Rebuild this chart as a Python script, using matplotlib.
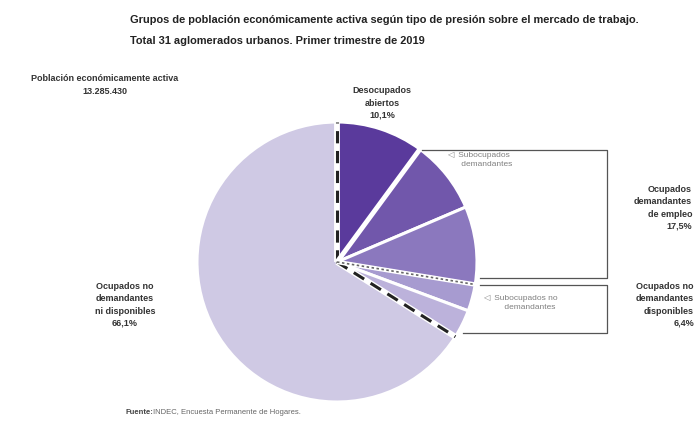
import numpy as np
import matplotlib.pyplot as plt

# datos (porcentajes de la PEA)
grupos = ['Desocupados abiertos', 'Subocupados demandantes', 'Otros ocupados demandantes',
          'Subocupados no demandantes', 'Otros ocupados no demandantes disponibles',
          'Ocupados no demandantes ni disponibles']
valores = [10.1, 8.5, 9.0, 3.1, 3.3, 66.1]
colores = ['#5a3a9c', '#7157ab', '#8b78be', '#a79bd0', '#bcb2db', '#cfc9e4']

plt.rcParams['font.family'] = ['Liberation Sans', 'DejaVu Sans']

W, H = 696, 430
fig = plt.figure(figsize=(W / 100, H / 100), dpi=100)
ax = fig.add_axes([0, 0, 1, 1])

cx, cy, r = 337, H - 262, 140
ax.pie(valores, colors=colores, startangle=90, counterclock=False,
       center=(cx, cy), radius=r, frame=True,
       wedgeprops=dict(edgecolor='white', linewidth=2.2))
ax.set_xlim(0, W)
ax.set_ylim(0, H)
ax.set_aspect('equal')
ax.axis('off')

# bordes entre grupos
acum = np.cumsum([0] + valores)
ang = np.deg2rad(90 - acum / acum[-1] * 360)

def radio(i, color, dashes, lw):
    x = [cx, cx + r * np.cos(ang[i])]
    y = [cy, cy + r * np.sin(ang[i])]
    ax.plot(x, y, color='white', lw=lw + 2, solid_capstyle='butt')
    ax.plot(x, y, color=color, lw=lw, dashes=dashes)

radio(0, '#222222', (4, 2.5), 2.2)
radio(5, '#222222', (4, 2.5), 2.2)
radio(1, '#ffffff', (2, 2), 1.5)
radio(3, '#666666', (1.5, 1.5), 1.2)

def py(v):
    return H - v

# llaves (cajas)
ax.plot([422, 607, 607, 480], [py(150), py(150), py(278), py(278)], color='#555555', lw=0.9)
ax.plot([480, 607, 607, 463], [py(285), py(285), py(333), py(333)], color='#555555', lw=0.9)

# titulos
ax.text(130, py(20), 'Grupos de población económicamente activa según tipo de presión sobre el mercado de trabajo.',
        fontsize=7.9, fontweight='bold', color='#222222', va='center', ha='left')
ax.text(130, py(41), 'Total 31 aglomerados urbanos. Primer trimestre de 2019',
        fontsize=7.9, fontweight='bold', color='#222222', va='center', ha='left')

eti = dict(fontsize=6.5, fontweight='bold', color='#333333', linespacing=1.45)
ax.text(105, py(85), 'Población económicamente activa\n13.285.430', ha='center', va='center', **eti)
ax.text(382, py(103), 'Desocupados\nabiertos\n10,1%', ha='center', va='center', **eti)
ax.text(692, py(208), 'Ocupados\ndemandantes\nde empleo\n17,5%', ha='right', va='center', **eti)
ax.text(694, py(305), 'Ocupados no\ndemandantes\ndisponibles\n6,4%', ha='right', va='center', **eti)
ax.text(125, py(305), 'Ocupados no\ndemandantes\nni disponibles\n66,1%', ha='center', va='center', **eti)

sub = dict(fontsize=6.0, color='#808080', linespacing=1.35)
ax.text(447, py(160), '◁  Subocupados\n      demandantes', ha='left', va='center', **sub)
ax.text(483, py(303), '◁  Subocupados no\n         demandantes', ha='left', va='center', **sub)

ax.text(125, py(413), 'Fuente:', fontsize=5.5, fontweight='bold', color='#444444', va='center', ha='left')
ax.text(153, py(413), 'INDEC, Encuesta Permanente de Hogares.', fontsize=5.5, color='#666666',
        va='center', ha='left')

fig.savefig('out.png', dpi=100)
